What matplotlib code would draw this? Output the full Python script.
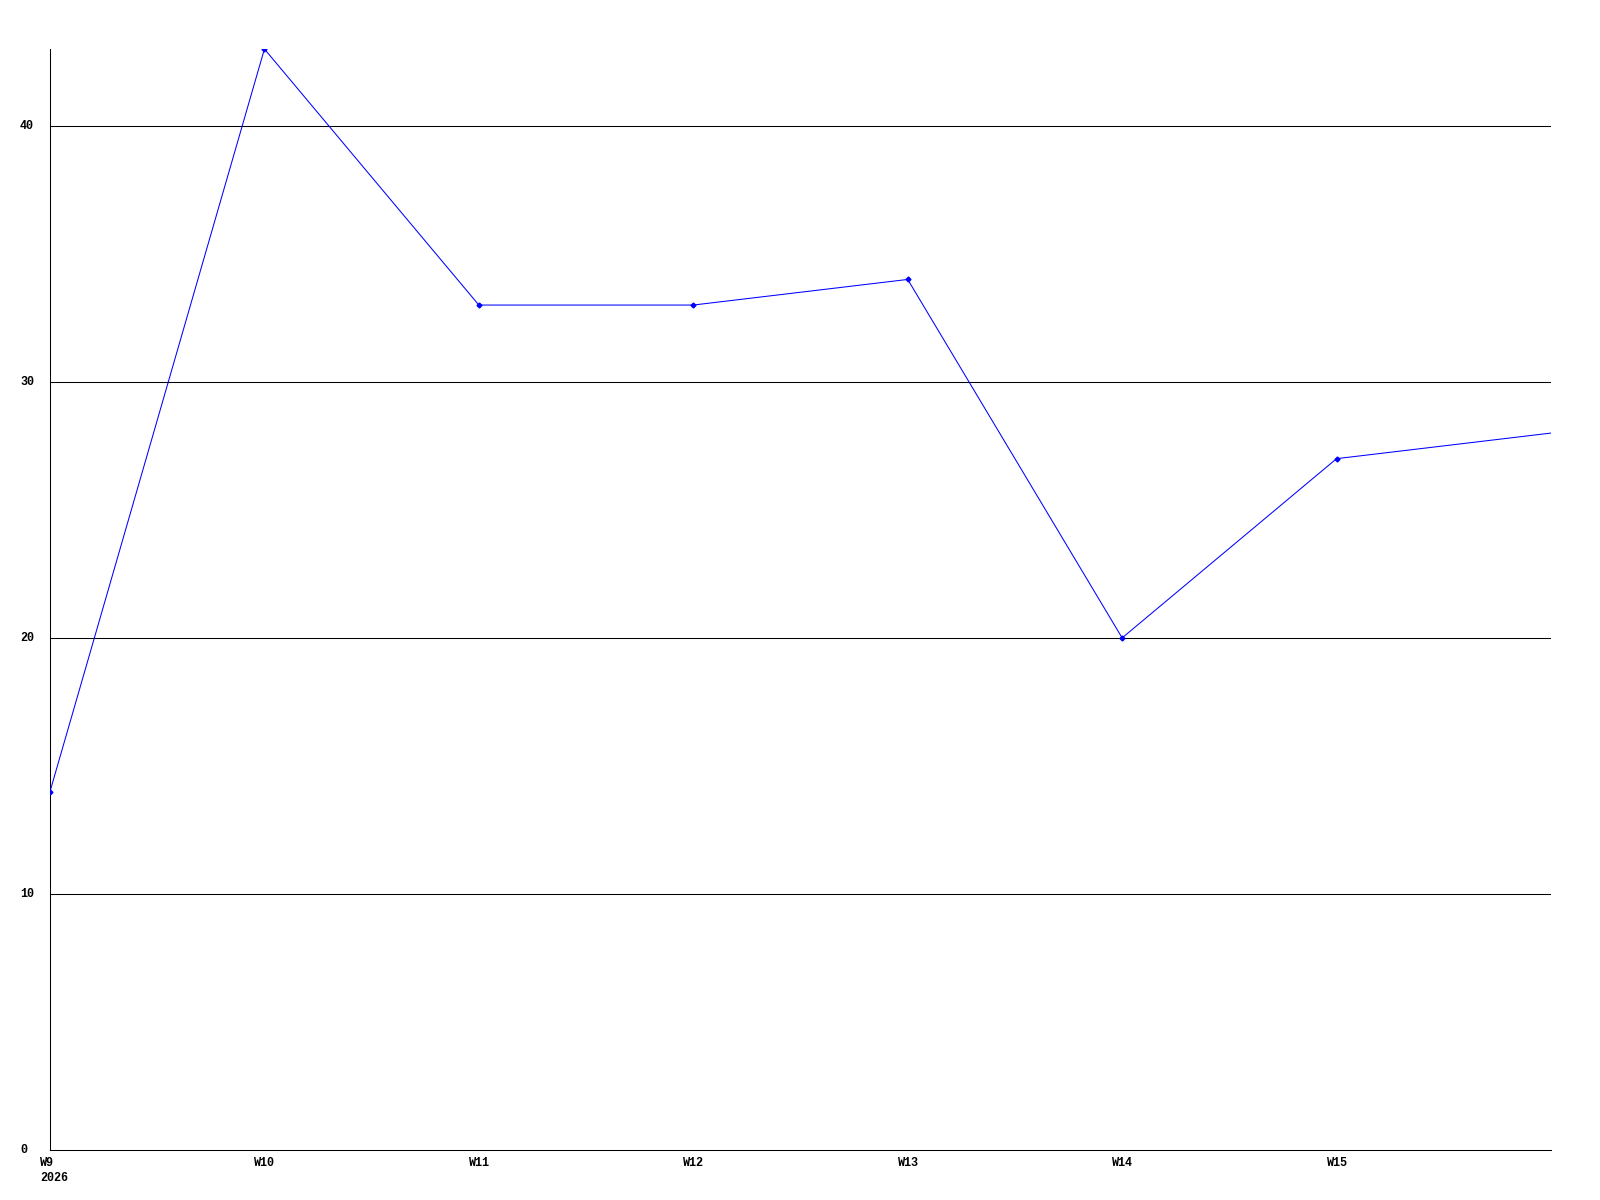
import matplotlib
matplotlib.use("Agg")
import matplotlib.pyplot as plt
import matplotlib.transforms as mtransforms

weeks = ["W9", "W10", "W11", "W12", "W13", "W14", "W15", "W16"]
values = [14, 43, 33, 33, 34, 20, 27, 28]
year_label = "2026"
y_ticks = [0, 10, 20, 30, 40]

fig = plt.figure(figsize=(16, 12), dpi=100)
ax = fig.add_axes([50/1600, 50/1200, 1501/1600, 1101/1200])
x = list(range(len(weeks)))
ax.plot(x, values, color="#0000ff", linewidth=0.75, marker="D", markersize=2.5,
        markevery=list(range(len(weeks) - 1)), clip_on=True, zorder=3)
ax.set_xlim(0, len(weeks) - 1)
ax.set_ylim(0, 43)

for y in y_ticks[1:]:
    ax.axhline(y, color="black", linewidth=0.75, zorder=1)

for s in ["top", "right"]:
    ax.spines[s].set_visible(False)
for s in ["left", "bottom"]:
    ax.spines[s].set_linewidth(0.75)
    ax.spines[s].set_color("black")

ax.set_xticks([])
ax.set_yticks([])

font = dict(family=["Liberation Mono", "DejaVu Sans Mono"], fontweight="bold", fontsize=8.5)

# y labels (left-aligned near the figure edge)
ytr = mtransforms.blended_transform_factory(fig.transFigure, ax.transData)
for y in y_ticks:
    ax.text(20/1600, y, str(y), transform=ytr, ha="left", va="center", **font)

# x labels
xtr = ax.get_xaxis_transform() + mtransforms.ScaledTranslation(-10/100, -7/100, fig.dpi_scale_trans)
for i, w in enumerate(weeks[:-1]):
    lab = w + ("\n" + year_label if i == 0 else "")
    ax.text(i, 0, lab, transform=xtr, ha="left", va="top", linespacing=1.3, **font)

fig.savefig("out.png", dpi=100)
